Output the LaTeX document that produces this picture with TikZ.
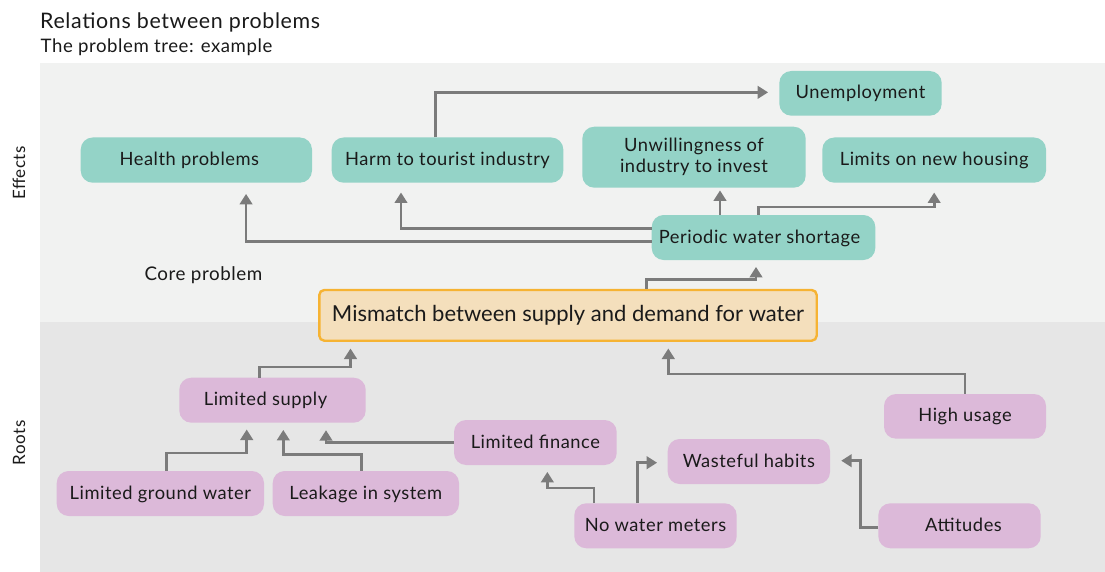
\documentclass[tikz,border=0pt]{standalone}
\usepackage{fontspec}
\setmainfont{Lato}
\newfontfamily\tracked{Lato}[LetterSpace=3]
\usetikzlibrary{arrows.meta}
\definecolor{effectfill}{HTML}{94D3C7}
\definecolor{rootfill}{HTML}{DCB9D9}
\definecolor{corefill}{HTML}{F4DFBC}
\definecolor{coreline}{HTML}{F6B333}
\definecolor{upperbg}{HTML}{F1F2F1}
\definecolor{lowerbg}{HTML}{E6E6E6}
\definecolor{linkgray}{HTML}{7B7B7B}
\definecolor{inktext}{HTML}{1A1A1A}
% box placed by its corners: style, name, x1, y1, x2, y2, text
\newcommand\placebox[7]{%
  \node[#1, minimum width={#5-#3}, minimum height={#6-#4}] (#2) at ({(#3+#5)/2},{(#4+#6)/2}) {#7};}
\tikzset{
  boxbase/.style={inner sep=0pt, rounded corners=12pt, text=inktext, align=center,
    font=\tracked\fontsize{18.3}{21}\selectfont},
  oneline/.style={text height=14.6pt, text depth=3.6pt},
  effect/.style={boxbase, fill=effectfill},
  root/.style={boxbase, oneline, fill=rootfill},
  core/.style={boxbase, rounded corners=5pt, fill=corefill, draw=coreline, line width=2.4pt,
    font=\rmfamily\fontsize{22}{25}\selectfont},
  link/.style={draw=linkgray, line width=2.7pt, -{Triangle[width=12.5pt,length=10.5pt]}},
  sidelabel/.style={rotate=90, text=inktext, font=\tracked\fontsize{17}{20}\selectfont},
  heading/.style={anchor=base west, inner sep=0pt, text=inktext},
}
\begin{document}
\begin{tikzpicture}[x=1pt,y=-1pt]
% canvas and the two bands
\fill[white] (0,0) rectangle (1105,572);
\useasboundingbox (0,0) rectangle (1105,572);
\fill[upperbg] (40,63) rectangle (1105,322);
\fill[lowerbg] (40,322) rectangle (1105,572);

% headings
\node[heading, font=\tracked\fontsize{21.4}{24}\selectfont] (title) at (40,28.5) {Relations between problems};
\node[heading, font=\tracked\fontsize{18.6}{21}\selectfont] (subtitle) at (40.5,52.3) {The problem tree: example};
\node[sidelabel] (effects) at (19,173) {Effects};
\node[sidelabel] (roots) at (19,443) {Roots};
\node[heading, font=\tracked\fontsize{18.8}{21}\selectfont] (corelabel) at (144.3,280.7) {Core problem};

% effects
\placebox{effect, oneline}{health}{80.7}{137.5}{312}{182.7}{Health problems\hspace{14pt}}
\placebox{effect, oneline}{harm}{331.7}{137.5}{563.3}{182.7}{Harm to tourist industry}
\placebox{effect, oneline}{unemp}{779.3}{71}{941.7}{115.7}{Unemployment}
\placebox{effect}{unwill}{582.3}{126.7}{805.7}{187.7}{Unwillingness of\\industry to invest}
\placebox{effect, oneline}{limits}{822.3}{137.5}{1046}{182.7}{Limits on new housing}
\placebox{effect, oneline}{periodic}{651.7}{215}{875.3}{260}{Periodic water shortage\hspace{8pt}}

% core problem
\placebox{core}{mismatch}{319.3}{290}{816.7}{340.7}{Mismatch between supply and demand for water}

% roots
\placebox{root}{supply}{179.3}{377.7}{365.7}{422.7}{Limited supply\hspace{14pt}}
\placebox{root}{ground}{56.7}{471}{264}{516}{Limited ground water}
\placebox{root}{leak}{272.7}{471}{459}{516}{Leakage in system}
\placebox{root}{finance}{454}{420}{616.7}{465}{Limited finance}
\placebox{root}{waste}{667.7}{439}{830}{484}{Wasteful habits}
\placebox{root}{meters}{574.3}{503.3}{736.7}{548.3}{No water meters}
\placebox{root}{high}{884}{394}{1046}{438.7}{High usage}
\placebox{root}{att}{878.3}{503.3}{1040.7}{548.3}{\hspace{8pt}Attitudes}

% links among the effects
\draw[link] ([xshift=-11.8pt]harm.north) |- ([xshift=-11pt,yshift=1pt]unemp.west);
\draw[link] ([yshift=-4.2pt]periodic.west) -| ([xshift=49.7pt,yshift=-11pt]health.south);
\draw[link] ([yshift=9.2pt]periodic.west) -| ([xshift=-46.5pt,yshift=-9.6pt]harm.south);
\draw[link] ([xshift=-43.5pt]periodic.north) -- ([xshift=26pt,yshift=-2.5pt]unwill.south);
\draw[link] ([xshift=-5.2pt]periodic.north) -- ++(0,-7.7) -| ([yshift=-9.6pt]limits.south);

% core problem to its effect
\draw[link] ([xshift=78.7pt]mismatch.north) -- ++(0,-9) -| ([xshift=-7.5pt,yshift=-6.7pt]periodic.south);

% links among the roots
\draw[link] ([xshift=-13.2pt]supply.north) -- ++(0,-10.4) -| ([xshift=32.4pt,yshift=-6.6pt]mismatch.south west);
\draw[link] (high.north) -- ++(0,-19.7) -| ([xshift=100.3pt,yshift=-6.6pt]mismatch.south);
\draw[link] ([xshift=6.4pt]ground.north) -- ++(0,-17.7) -| ([xshift=-25.8pt,yshift=-6.6pt]supply.south);
\draw[link] ([xshift=-4.1pt]leak.north) -- ++(0,-16) -| ([xshift=10.8pt,yshift=-7pt]supply.south);
\draw[link] (finance.west) -| ([xshift=53.5pt,yshift=-7.3pt]supply.south);
\draw[link] ([xshift=-61.5pt]meters.north) -- ++(0,-15) -| ([xshift=12pt,yshift=-6.7pt]finance.south);
\draw[link] ([xshift=-18.2pt]meters.north) |- ([xshift=-10.4pt,yshift=-1.2pt]waste.west);
\draw[link] ([yshift=-1.9pt]att.west) -| ([xshift=30pt,yshift=0.8pt]waste.east) -- ([xshift=11pt,yshift=0.8pt]waste.east);
\end{tikzpicture}
\end{document}
